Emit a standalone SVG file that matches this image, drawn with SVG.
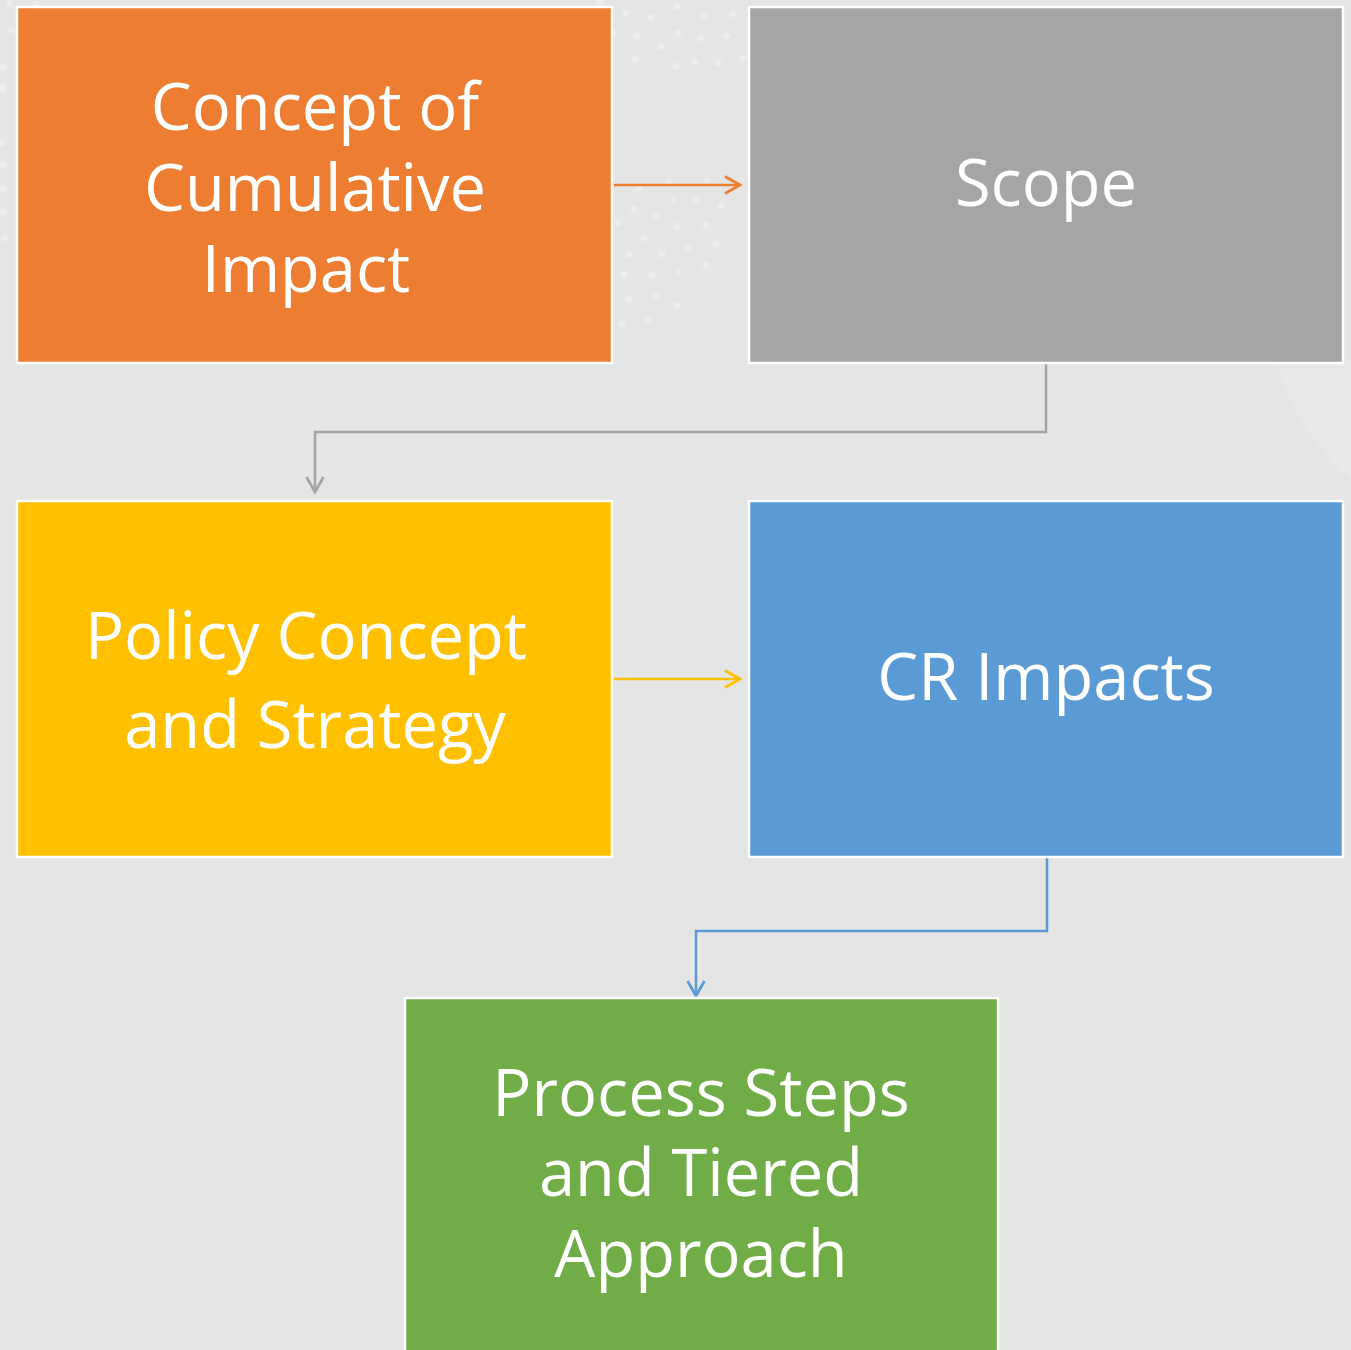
<svg xmlns="http://www.w3.org/2000/svg" width="1351" height="1350" viewBox="0 0 1351 1350">
<defs>
<style>
.box{stroke:#ffffff;stroke-width:2.5}
.lbl{font-family:"Open Sans","Noto Sans","Liberation Sans",sans-serif;font-size:65px;fill:#ffffff;text-anchor:middle}
.dot{fill:#ececec}
.conn{fill:none;stroke-width:2.5}
</style>
<marker id="aO" markerWidth="24" markerHeight="24" refX="16" refY="10" orient="auto" markerUnits="userSpaceOnUse" viewBox="0 0 24 20"><path d="M1,1.5 L16,10 L1,18.5" fill="none" stroke="#ed7d31" stroke-width="2.8"/></marker>
<marker id="aG" markerWidth="24" markerHeight="24" refX="16" refY="10" orient="auto" markerUnits="userSpaceOnUse" viewBox="0 0 24 20"><path d="M1,1.5 L16,10 L1,18.5" fill="none" stroke="#a5a5a5" stroke-width="2.8"/></marker>
<marker id="aY" markerWidth="24" markerHeight="24" refX="16" refY="10" orient="auto" markerUnits="userSpaceOnUse" viewBox="0 0 24 20"><path d="M1,1.5 L16,10 L1,18.5" fill="none" stroke="#ffc000" stroke-width="2.8"/></marker>
<marker id="aB" markerWidth="24" markerHeight="24" refX="16" refY="10" orient="auto" markerUnits="userSpaceOnUse" viewBox="0 0 24 20"><path d="M1,1.5 L16,10 L1,18.5" fill="none" stroke="#5b9bd5" stroke-width="2.8"/></marker>
</defs>
<rect x="0" y="0" width="1351" height="1350" fill="#e5e5e5"/>
<path d="M1275,360 Q1300,440 1351,480 L1351,360 Z" fill="#e8e8e8"/>
<g id="background-dots">
<circle class="dot" cx="600" cy="3" r="4"/><circle class="dot" cx="625" cy="13" r="3.5"/><circle class="dot" cx="651" cy="17" r="3.5"/><circle class="dot" cx="677" cy="7" r="3.5"/><circle class="dot" cx="703" cy="16" r="3.5"/><circle class="dot" cx="733" cy="14" r="3.5"/>
<circle class="dot" cx="613" cy="33" r="3.5"/><circle class="dot" cx="637" cy="36" r="3.5"/><circle class="dot" cx="678" cy="33" r="3.5"/><circle class="dot" cx="701" cy="38" r="3.5"/><circle class="dot" cx="727" cy="36" r="3.5"/><circle class="dot" cx="661" cy="47" r="3.5"/>
<circle class="dot" cx="635" cy="59" r="3.5"/><circle class="dot" cx="676" cy="66" r="3.5"/><circle class="dot" cx="695" cy="62" r="3.5"/><circle class="dot" cx="718" cy="63" r="3.5"/><circle class="dot" cx="743" cy="58" r="3.5"/>
<circle class="dot" cx="669" cy="182" r="3.5"/><circle class="dot" cx="707" cy="180" r="3.5"/><circle class="dot" cx="639" cy="188" r="3.5"/><circle class="dot" cx="674" cy="200" r="3.5"/><circle class="dot" cx="696" cy="201" r="3.5"/><circle class="dot" cx="721" cy="206" r="3.5"/>
<circle class="dot" cx="634" cy="209" r="3.5"/><circle class="dot" cx="657" cy="216" r="3.5"/><circle class="dot" cx="618" cy="223" r="3.5"/><circle class="dot" cx="677" cy="226" r="3.5"/><circle class="dot" cx="706" cy="225" r="3.5"/>
<circle class="dot" cx="644" cy="238" r="3.5"/><circle class="dot" cx="629" cy="255" r="3.5"/><circle class="dot" cx="662" cy="254" r="3.5"/><circle class="dot" cx="688" cy="247" r="3.5"/><circle class="dot" cx="716" cy="244" r="3.5"/>
<circle class="dot" cx="624" cy="275" r="3.5"/><circle class="dot" cx="652" cy="275" r="3.5"/><circle class="dot" cx="678" cy="272" r="3.5"/><circle class="dot" cx="706" cy="265" r="3.5"/>
<circle class="dot" cx="629" cy="299" r="3.5"/><circle class="dot" cx="656" cy="297" r="3.5"/><circle class="dot" cx="677" cy="305" r="3.5"/><circle class="dot" cx="622" cy="324" r="3.5"/><circle class="dot" cx="649" cy="320" r="3.5"/>
<circle class="dot" cx="9" cy="3" r="3.5"/><circle class="dot" cx="36" cy="5" r="3.5"/><circle class="dot" cx="11" cy="30" r="3.5"/><circle class="dot" cx="3" cy="67" r="3.5"/><circle class="dot" cx="3" cy="88" r="3.5"/><circle class="dot" cx="2" cy="143" r="3.5"/><circle class="dot" cx="3" cy="165" r="3.5"/><circle class="dot" cx="3" cy="189" r="3.5"/><circle class="dot" cx="3" cy="212" r="3.5"/><circle class="dot" cx="5" cy="238" r="3.5"/>
</g>
<g id="connectors">
<line class="conn" x1="614" y1="185" x2="740" y2="185" stroke="#ed7d31" marker-end="url(#aO)"/>
<polyline class="conn" points="1046,364 1046,432 315,432 315,492" stroke="#a5a5a5" marker-end="url(#aG)"/>
<line class="conn" x1="614" y1="679" x2="740" y2="679" stroke="#ffc000" marker-end="url(#aY)"/>
<polyline class="conn" points="1047,858 1047,931 696,931 696,996" stroke="#5b9bd5" marker-end="url(#aB)"/>
</g>
<g id="node-concept">
<rect class="box" x="17" y="7" width="595" height="356" fill="#ed7d31"/>
<text class="lbl" x="315" y="130">Concept of</text>
<text class="lbl" x="315" y="211">Cumulative</text>
<text class="lbl" x="306" y="292">Impact</text>
</g>
<g id="node-scope">
<rect class="box" x="749" y="7" width="594" height="356" fill="#a5a5a5"/>
<text class="lbl" x="1046" y="206">Scope</text>
</g>
<g id="node-policy">
<rect class="box" x="17" y="501" width="595" height="356" fill="#ffc000"/>
<text class="lbl" x="306" y="659">Policy Concept</text>
<text class="lbl" x="315" y="748">and Strategy</text>
</g>
<g id="node-cr">
<rect class="box" x="749" y="501" width="594" height="356" fill="#5b9bd5"/>
<text class="lbl" x="1046" y="700">CR Impacts</text>
</g>
<g id="node-process">
<rect class="box" x="405" y="998" width="593" height="360" fill="#70ad47"/>
<text class="lbl" x="701" y="1116">Process Steps</text>
<text class="lbl" x="701" y="1196">and Tiered</text>
<text class="lbl" x="701" y="1277">Approach</text>
</g>
</svg>
